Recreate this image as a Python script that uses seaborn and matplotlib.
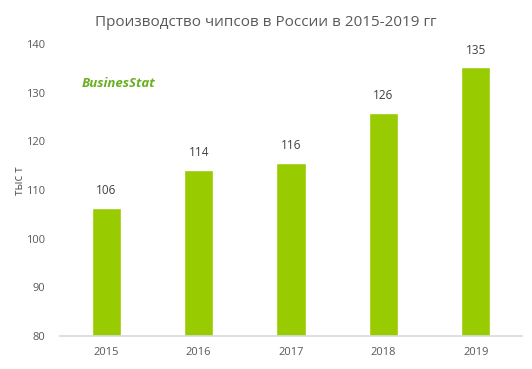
import matplotlib
matplotlib.use("Agg")
import matplotlib.pyplot as plt
import seaborn as sns
import pandas as pd

years = ["2015", "2016", "2017", "2018", "2019"]
values = [106.3, 114.1, 115.6, 125.9, 135.2]
labels = ["106", "114", "116", "126", "135"]
yticks = [80, 90, 100, 110, 120, 130, 140]

sns.set_theme(style="white")
plt.rcParams['font.family'] = ['Open Sans', 'DejaVu Sans']

df = pd.DataFrame({"year": years, "value": values})
fig = plt.figure(figsize=(5.32, 3.69), dpi=100)
ax = fig.add_axes([0.113, 0.089, 0.868, 0.792])
sns.barplot(data=df, x="year", y="value", color="#99CC00", width=0.32,
            saturation=1, ax=ax)
ax.set_ylim(80, 140)
ax.set_yticks(yticks)
ax.set_xlabel("")
ax.set_ylabel("")
for s in ["top", "right", "left"]:
    ax.spines[s].set_visible(False)
ax.spines["bottom"].set_color("#D9D9D9")
ax.tick_params(axis="both", length=0, labelsize=8, colors="#595959")
ax.tick_params(axis="x", pad=8)
ax.tick_params(axis="y", pad=11)
for i, (v, l) in enumerate(zip(values, labels)):
    ax.text(i, v + 2.2, l, ha="center", va="bottom", fontsize=8.5, color="#404040")
fig.text(0.036, 0.51, "тыс т", rotation=90, ha="center", va="center",
         fontsize=8.5, color="#595959")
fig.text(0.5, 0.94, "Производство чипсов в России в 2015-2019 гг", ha="center",
         va="center", fontsize=11, color="#595959")
fig.text(0.222, 0.775, "BusinesStat", ha="center", va="center", fontsize=9.5,
         color="#6AB023", fontweight="bold", style="italic")
fig.savefig("out.png", dpi=100)
